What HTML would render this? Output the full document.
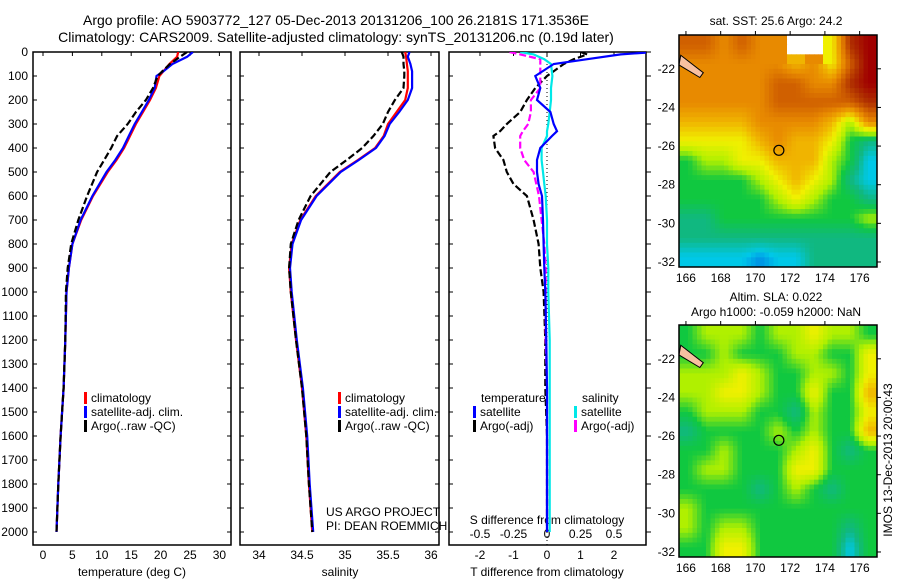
<!DOCTYPE html>
<html><head><meta charset="utf-8"><style>
html,body{margin:0;padding:0;background:#fff;}
svg{display:block;font-family:"Liberation Sans",sans-serif;}
text{fill:#000;}
</style></head><body>
<svg id="fig" width="900" height="580" viewBox="0 0 900 580">
<defs>
<clipPath id="c1"><rect x="33" y="52" width="198" height="493"/></clipPath>
<clipPath id="c2"><rect x="240" y="52" width="199" height="493"/></clipPath>
<clipPath id="c3"><rect x="449" y="52" width="197" height="493"/></clipPath>
</defs>
<text x="336" y="25" font-size="14" text-anchor="middle">Argo profile: AO 5903772_127 05-Dec-2013 20131206_100 26.2181S 171.3536E</text>
<text x="336" y="42" font-size="14" text-anchor="middle">Climatology: CARS2009. Satellite-adjusted climatology: synTS_20131206.nc (0.19d later)</text>
<g id="layer"></g>
</svg>
<script>
// ---- data ----
const depths = [0,20,50,80,100,150,200,250,300,350,400,450,500,600,700,800,900,1000,1200,1400,1600,1800,2000];
const climT = [23,22.8,21.5,20.5,19.8,19.2,18.2,17,15.8,14.8,13.8,12.5,11,8.5,6.5,5,4.4,4.0,3.8,3.5,3.0,2.6,2.3];
const satT  = [25.5,24.5,22,20.5,19.3,19,18,16.8,15.6,14.6,13.6,12.3,10.8,8.4,6.4,5,4.4,4.0,3.8,3.5,3.0,2.6,2.3];
const argoT = [24.5,23.3,21.6,20.3,19.5,18.7,17.5,15.8,14.4,12.6,11.6,10.4,9.2,7.5,6,4.8,4.2,3.9,3.8,3.5,3.0,2.6,2.3];
const climS = [35.7,35.71,35.72,35.73,35.73,35.73,35.7,35.6,35.5,35.45,35.35,35.15,34.94,34.66,34.48,34.38,34.35,34.37,34.43,34.5,34.55,34.58,34.62];
const satS  = [35.75,35.73,35.76,35.78,35.78,35.78,35.73,35.63,35.52,35.46,35.36,35.16,34.95,34.67,34.49,34.39,34.36,34.38,34.44,34.51,34.56,34.59,34.63];
const argoS = [35.66,35.68,35.68,35.69,35.69,35.68,35.58,35.5,35.44,35.33,35.2,35.02,34.83,34.6,34.46,34.37,34.35,34.37,34.43,34.5,34.55,34.58,34.62];
const diffDepths = [0,10,30,50,100,150,200,250,300,330,350,400,450,500,550,600,700,800,900,1000,1200,1400,1600,1800,2000];
const satTdiff  = [3.2,2.2,1.2,0.2,-0.35,-0.2,-0.3,0.1,0.2,0.3,0.15,-0.2,-0.3,-0.3,-0.25,-0.15,-0.12,-0.1,-0.08,-0.05,-0.02,0,0,0,0];
const argoTdiff = [1.0,1.2,0.8,0.5,0,-0.35,-0.6,-0.8,-1.2,-1.4,-1.6,-1.55,-1.3,-1.2,-1.0,-0.6,-0.4,-0.25,-0.2,-0.1,-0.05,-0.05,0,0,0];
const satSdiff  = [-0.2,-0.1,-0.02,0.03,0.04,0.03,0.03,0.02,0.01,0.0,0.0,-0.04,-0.04,-0.03,-0.02,-0.01,0,0,0.01,0.01,0.02,0.02,0.02,0.02,0.02];
const argoSdiff = [-0.28,-0.2,-0.05,-0.05,-0.05,-0.05,-0.12,-0.12,-0.14,-0.18,-0.2,-0.2,-0.17,-0.1,-0.08,-0.06,-0.04,-0.02,-0.01,-0.01,-0.01,0,0,0,0];
const depthTicks = [0,100,200,300,400,500,600,700,800,900,1000,1100,1200,1300,1400,1500,1600,1700,1800,1900,2000];
const tTicks = [0,5,10,15,20,25,30];
const sTicks = [34,34.5,35,35.5,36];
const dTTicks = [-2,-1,0,1,2];
const dSTicks = [-0.5,-0.25,0,0.25,0.5];
const dSLabels = ["-0.5","-0.25","0","0.25","0.5"];
const lonTicks = [166,168,170,172,174,176];
const latTicks = [-22,-24,-26,-28,-30,-32];
const sstGrid = [
[8,8,7,8,7,7,-1,-1,5,9,10],
[7,7,7,7,7,7,6,7,5,8,10],
[7,7,7,7,7,8,8,7,7,9,10],
[7,7,7,7,7,8,8,8,8,8,9],
[6,6,6,6,7,7,7,7,6,4,7],
[5,5,5,5,6,7,6,6,5,3,2],
[3,4,4,5,5,6,6,6,4,3,1],
[3,3,3,3,4,5,6,5,4,2,1],
[3,3,3,3,3,4,5,4,3,3,2],
[2,2,3,3,3,3,3,3,3,3,4],
[2,2,2,2,2,2,2,2,2,2,2],
[1,1,1,1,0.6,1,1,2,2,2,2]];
const slaGrid = [
[3,4,4,4,3,4,4,5,4,4,3],
[3,3,4,3,3,3,4,4,3,3,5],
[4,4,4,5,4,3,3,4,4,3,5],
[4,4,5,5,4,3,3,5,3,3,6],
[3,4,4,4,3,3,2,4,3,3,5],
[2,3,3,3,3,4,3,4,3,3,6],
[3,3,4,3,3,3,4,5,3,2,3],
[3,4,4,3,3,3,5,5,3,3,3],
[3,3,3,3,2,3,4,3,2,3,3],
[4,3,3,3,3,3,3,3,3,3,3],
[4,3,4,4,3,3,3,3,3,2,3],
[3,3,5,5,3,3,3,3,3,1,3]];
const argoLon = 171.35, argoLat = -26.22;

// ---- axes ----
const py = d => 52 + d*0.24;
const px1 = t => 43 + t*5.88;
const px2 = s => 259 + (s-34)*86;
const px3T = t => 547 + t*33.5;
const px3S = s => 547 + s*134;
const map1 = {x0:679,x1:877,y0:35,y1:267};
const map2 = {x0:679,x1:877,y0:325,y1:557};
const LON0=165.6, LON1=177.0, LAT0=-20.25, LAT1=-32.26;
const lonX = (m,lon) => m.x0 + (lon-LON0)/(LON1-LON0)*(m.x1-m.x0);
const latY = (m,lat) => m.y0 + (LAT0-lat)/(LAT0-LAT1)*(m.y1-m.y0);

const NS="http://www.w3.org/2000/svg";
const L=document.getElementById('layer');
function mk(tag,attrs,parent){const e=document.createElementNS(NS,tag);for(const k in attrs)e.setAttribute(k,attrs[k]);(parent||L).appendChild(e);return e;}
function txt(x,y,s,size,anchor,parent){const e=mk('text',{x:x,y:y,'font-size':size,'text-anchor':anchor||'start'},parent);e.textContent=s;return e;}

function panel(x0,x1,name){
  const r=mk('rect',{x:x0,y:52,width:x1-x0,height:493,fill:'none',stroke:'#000','stroke-width':1.5});
  
  
}
panel(33,231,'temperature-panel');
panel(240,439,'salinity-panel');
panel(449,646,'difference-panel');

depthTicks.forEach(d=>{
  const t=txt(28,py(d)+4,String(d),12,'end');
  
  
  [[33,37],[227,231],[240,244],[435,439],[449,453],[646,651]].forEach(p=>{
    const l=mk('line',{x1:p[0],x2:p[1],y1:py(d),y2:py(d),stroke:'#000','stroke-width':1});
    
    
  });
});
tTicks.forEach(v=>{
  const t=txt(px1(v),559,String(v),12,'middle');
  
  
  const l=mk('line',{x1:px1(v),x2:px1(v),y1:52,y2:56,stroke:'#000'});
  
  
});
sTicks.forEach(v=>{
  const t=txt(px2(v),559,String(v),12,'middle');
  
  
  const l=mk('line',{x1:px2(v),x2:px2(v),y1:52,y2:56,stroke:'#000'});
  
  
});
dTTicks.forEach(v=>{
  const t=txt(px3T(v),559,String(v),12,'middle');
  
  
  const l=mk('line',{x1:px3T(v),x2:px3T(v),y1:52,y2:56,stroke:'#000'});
  
  
});
dSTicks.forEach((v,i)=>{
  const t=txt(px3S(v),538,dSLabels[i],12,'middle');
  
  
});
let at;
at=txt(132,576,'temperature (deg C)',12,'middle');


at=txt(340,576,'salinity',12,'middle');


at=txt(547,576,'T difference from climatology',12,'middle');


at=txt(547,524,'S difference from climatology',12,'middle');


at=txt(326,516,'US ARGO PROJECT',12,'start');


at=txt(326,530,'PI: DEAN ROEMMICH',12,'start');



const zl=mk('line',{x1:547,x2:547,y1:52,y2:545,stroke:'#000','stroke-dasharray':'1,3','stroke-width':1});



function series(xs,ys,fx,color,dash,clip,name){
  const d=xs.map((v,i)=>(i?'L':'M')+fx(v).toFixed(1)+','+py(ys[i]).toFixed(1)).join(' ');
  const a={d:d,fill:'none',stroke:color,'stroke-width':2.2,'clip-path':'url(#'+clip+')'};
  if(dash)a['stroke-dasharray']=dash;
  const p=mk('path',a);
  
  
}
series(climT,depths,px1,'#ff0000',null,'c1','temperature-climatology-line');
series(satT,depths,px1,'#0000ff',null,'c1','temperature-satellite-line');
series(argoT,depths,px1,'#000000','7,3','c1','temperature-argo-line');
series(climS,depths,px2,'#ff0000',null,'c2','salinity-climatology-line');
series(satS,depths,px2,'#0000ff',null,'c2','salinity-satellite-line');
series(argoS,depths,px2,'#000000','7,3','c2','salinity-argo-line');
series(argoTdiff,diffDepths,px3T,'#000000','7,3','c3','t-diff-argo-line');
series(argoSdiff,diffDepths,px3S,'#ff00ff','7,3','c3','s-diff-argo-line');
series(satSdiff,diffDepths,px3S,'#00e8e8',null,'c3','s-diff-satellite-line');
series(satTdiff,diffDepths,px3T,'#0000ff',null,'c3','t-diff-satellite-line');

function legend(x,y,color,label){
  const b=mk('rect',{x:x,y:y-10,width:3,height:12,fill:color});
  
  
  const t=txt(x+7,y,label,12,'start');
  
  
}
legend(84,402,'#ff0000','climatology');
legend(84,416,'#0000ff','satellite-adj. clim.');
legend(84,430,'#000000','Argo(..raw -QC)');
legend(338,402,'#ff0000','climatology');
legend(338,416,'#0000ff','satellite-adj. clim.');
legend(338,430,'#000000','Argo(..raw -QC)');
at=txt(481,402,'temperature',12,'start');


at=txt(582,402,'salinity',12,'start');


legend(473,416,'#0000ff','satellite');
legend(473,430,'#000000','Argo(-adj)');
legend(574,416,'#00e8e8','satellite');
legend(574,430,'#ff00ff','Argo(-adj)');

// ---- maps ----
const cstops=['#0040e0','#00c8e8','#10b880','#10c840','#b0f000','#f0f000','#f0b400','#e88a00','#d06000','#b03000','#a00000'];
function hex2rgb(h){return [1,3,5].map(i=>parseInt(h.substr(i,2),16));}
function cmap(v){
  if(v<0)return '#ffffff';
  const i=Math.min(9,Math.max(0,Math.floor(v))),f=Math.min(1,Math.max(0,v-i));
  const a=hex2rgb(cstops[i]),b=hex2rgb(cstops[i+1]);
  return 'rgb('+a.map((c,k)=>Math.round(c+(b[k]-c)*f)).join(',')+')';
}
function sample(grid,fr,fc){
  const R=grid.length,C=grid[0].length;
  const r=Math.max(0,Math.min(R-1,fr)),c=Math.max(0,Math.min(C-1,fc));
  const r0=Math.floor(r),c0=Math.floor(c),r1=Math.min(R-1,r0+1),c1=Math.min(C-1,c0+1);
  const a=grid[r0][c0],b=grid[r0][c1],d=grid[r1][c0],e=grid[r1][c1];
  if(a<0||b<0||d<0||e<0){return grid[Math.round(r)][Math.round(c)];}
  const fy=r-r0,fx=c-c0;
  return a*(1-fx)*(1-fy)+b*fx*(1-fy)+d*(1-fx)*fy+e*fx*fy;
}
function drawMap(m,grid,name){
  const rows=grid.length,cols=grid[0].length,SUB=4;
  const cw=(m.x1-m.x0)/(cols*SUB),ch=(m.y1-m.y0)/(rows*SUB);
  for(let r=0;r<rows*SUB;r++)for(let c=0;c<cols*SUB;c++){
    const v=sample(grid,(r+0.5)/SUB-0.5,(c+0.5)/SUB-0.5);
    const cell=mk('rect',{x:(m.x0+c*cw).toFixed(2),y:(m.y0+r*ch).toFixed(2),width:(cw+0.5).toFixed(2),height:(ch+0.5).toFixed(2),fill:cmap(v)});
    
    
  }
  const land=mk('path',{d:'M'+lonX(m,165.7)+','+latY(m,-21.3)+' L'+lonX(m,167.0)+','+latY(m,-22.2)+' L'+lonX(m,166.8)+','+latY(m,-22.45)+' L'+lonX(m,165.6)+','+latY(m,-21.8)+' Z',fill:'#f8c0a0',stroke:'#000','stroke-width':1});
  
  
  const frame=mk('rect',{x:m.x0,y:m.y0,width:m.x1-m.x0,height:m.y1-m.y0,fill:'none',stroke:'#000','stroke-width':1.5});
  
  
  const mk1=mk('circle',{cx:lonX(m,argoLon),cy:latY(m,argoLat),r:5,fill:'none',stroke:'#000','stroke-width':1.2});
  
  
  lonTicks.forEach(v=>{
    const t=txt(lonX(m,v),m.y1+15,String(v),12,'middle');
    
    
    const l=mk('line',{x1:lonX(m,v),x2:lonX(m,v),y1:m.y0-4,y2:m.y0,stroke:'#000'});
    
    
  });
  latTicks.forEach(v=>{
    const t=txt(m.x0-4,latY(m,v)+4,String(v),12,'end');
    
    
    const l=mk('line',{x1:m.x1,x2:m.x1+4,y1:latY(m,v),y2:latY(m,v),stroke:'#000'});
    
    
  });
}
drawMap(map1,sstGrid,'sst-map');
drawMap(map2,slaGrid,'sla-map');
at=txt(776,25,'sat. SST: 25.6 Argo: 24.2',12,'middle');


at=txt(776,301,'Altim. SLA: 0.022',12,'middle');


at=txt(776,316,'Argo h1000: -0.059 h2000: NaN',12,'middle');


at=txt(0,0,'IMOS 13-Dec-2013 20:00:43',12,'middle');
at.setAttribute('transform','translate(892,460) rotate(-90)');


</script>
</body></html>
